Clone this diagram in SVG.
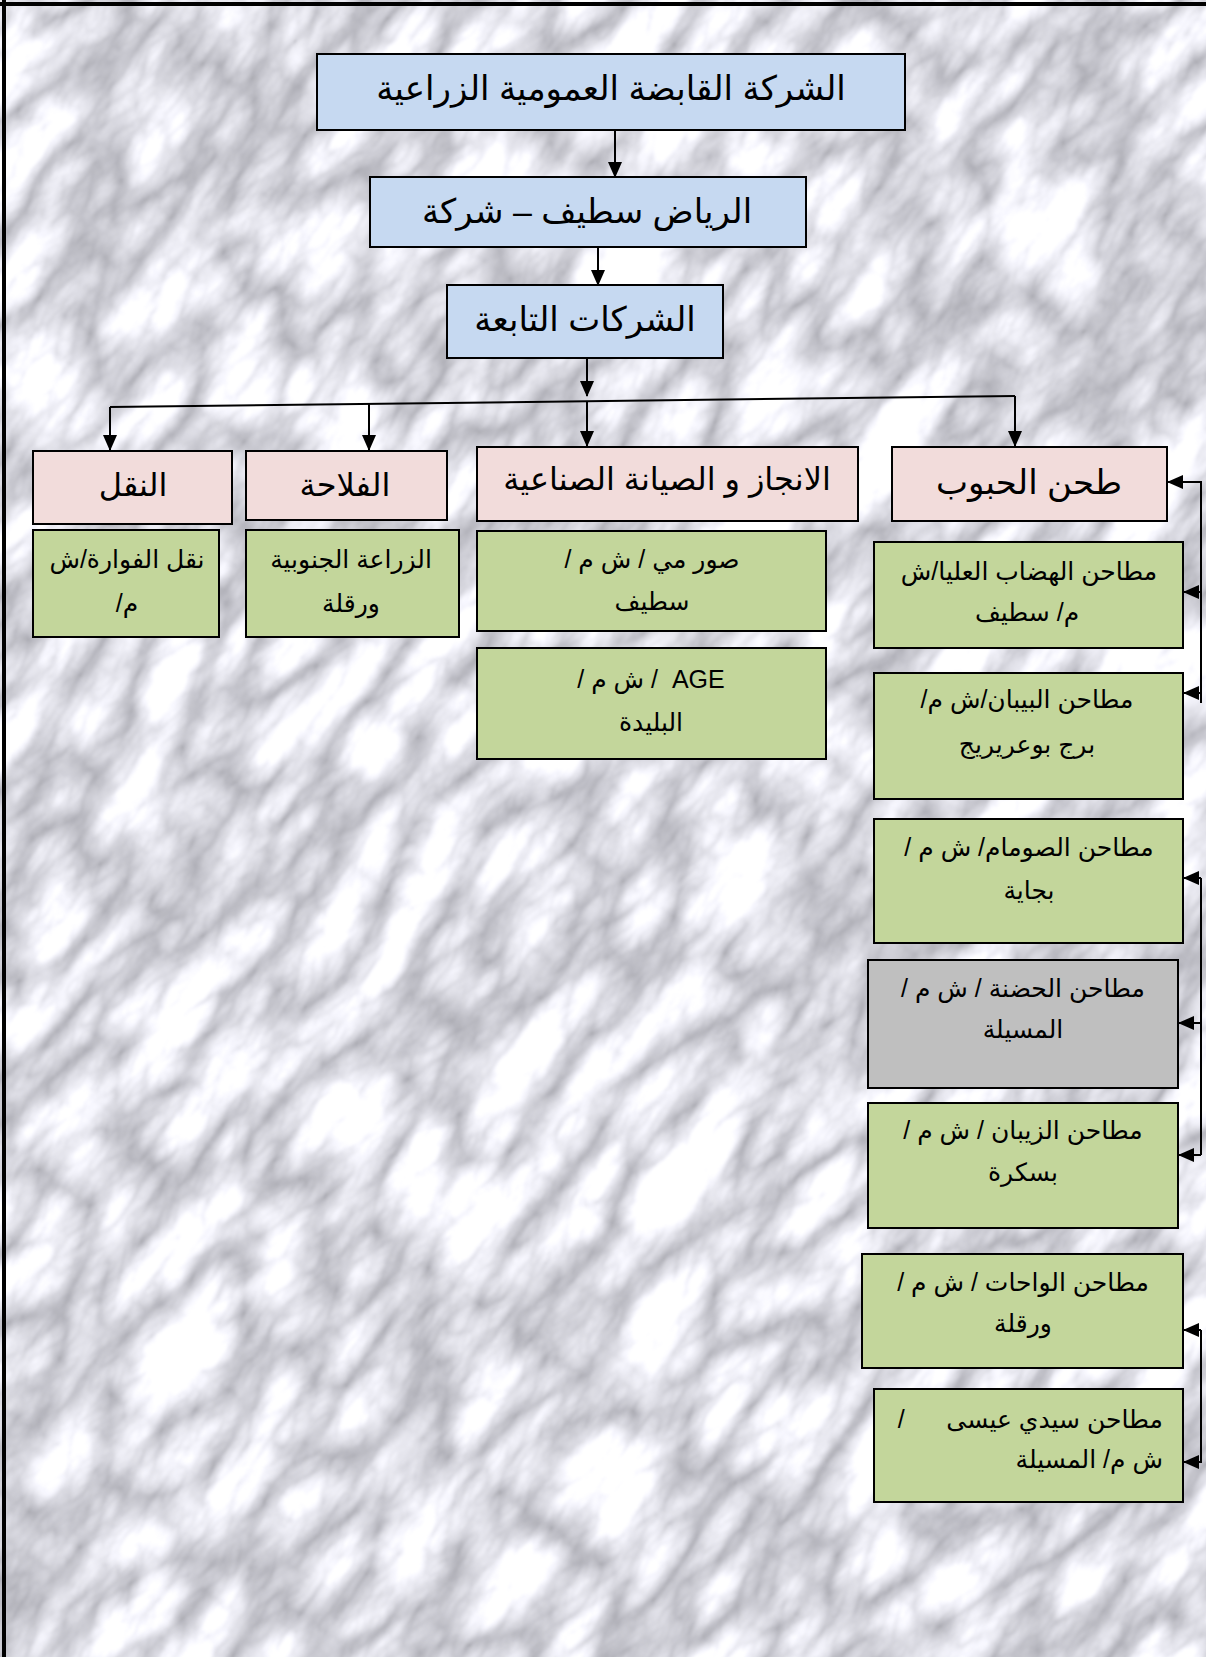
<svg xmlns="http://www.w3.org/2000/svg" width="1206" height="1657" viewBox="0 0 1206 1657">
  <style>
    .box{stroke:#000;stroke-width:2}
    .blue{fill:#c6d9f1}
    .pink{fill:#f2dcdb}
    .green{fill:#c3d69b}
    .gray{fill:#bfbfbf}
    text{font-family:"Liberation Sans","DejaVu Sans",sans-serif;fill:#000;direction:rtl}
    .t1{font-size:34px}
    .t2{font-size:32px}
    .t3{font-size:25px}
    .conn{stroke:#000;stroke-width:2;fill:none}
  </style>
  <defs>
    <filter id="marbleF" x="0" y="0" width="100%" height="100%" color-interpolation-filters="sRGB">
      <feTurbulence type="turbulence" baseFrequency="0.007 0.016" numOctaves="5" seed="23"/>
      <feColorMatrix type="matrix" values="0.6 0 0 0 0.67  0.6 0 0 0 0.67  0.6 0 0 0 0.70  0 0 0 0 1"/>
      <feGaussianBlur stdDeviation="1"/>
    </filter>
    <marker id="arr" markerWidth="16" markerHeight="14" refX="15" refY="7" orient="auto" markerUnits="userSpaceOnUse">
      <path d="M0,0 L16,7 L0,14 z" fill="#000"/>
    </marker>
  </defs>

  <rect x="0" y="0" width="1206" height="1657" fill="#e4e4e8"/>
  <g transform="rotate(-55 603 828)">
    <rect x="-700" y="-500" width="2600" height="2700" fill="#fff" filter="url(#marbleF)"/>
  </g>
  <path d="M4,0 V1657 M0,4 H1206" stroke="#000" stroke-width="4" fill="none"/>

  <g id="connectors">
    <path class="conn" d="M615,130 V177" marker-end="url(#arr)"/>
    <path class="conn" d="M598,247 V285" marker-end="url(#arr)"/>
    <path class="conn" d="M587,358 V396" marker-end="url(#arr)"/>
    <path class="conn" d="M110,407 L1015,396"/>
    <path class="conn" d="M110,407 V450" marker-end="url(#arr)"/>
    <path class="conn" d="M369,404 V450" marker-end="url(#arr)"/>
    <path class="conn" d="M587,401 V446" marker-end="url(#arr)"/>
    <path class="conn" d="M1015,396 V446" marker-end="url(#arr)"/>
    <path class="conn" d="M1201,703 V482 H1168" marker-end="url(#arr)"/>
    <path class="conn" d="M1201,592 H1184" marker-end="url(#arr)"/>
    <path class="conn" d="M1201,693 H1184" marker-end="url(#arr)"/>
    <path class="conn" d="M1201,878 V1155"/>
    <path class="conn" d="M1201,878 H1184" marker-end="url(#arr)"/>
    <path class="conn" d="M1201,1023 H1179" marker-end="url(#arr)"/>
    <path class="conn" d="M1201,1155 H1179" marker-end="url(#arr)"/>
    <path class="conn" d="M1201,1330 V1463"/>
    <path class="conn" d="M1201,1330 H1184" marker-end="url(#arr)"/>
    <path class="conn" d="M1201,1462 H1184" marker-end="url(#arr)"/>
  </g>

  <g id="holding">
    <rect class="box blue" x="317" y="54" width="588" height="76"/>
    <text class="t1" x="611" y="100" text-anchor="middle">الشركة القابضة العمومية الزراعية</text>
  </g>
  <g id="riad">
    <rect class="box blue" x="370" y="177" width="436" height="70"/>
    <text class="t1" x="587" y="223" text-anchor="middle">الرياض سطيف – شركة</text>
  </g>
  <g id="subsidiaries">
    <rect class="box blue" x="447" y="285" width="276" height="73"/>
    <text class="t1" x="585" y="331" text-anchor="middle">الشركات التابعة</text>
  </g>

  <g id="transport">
    <rect class="box pink" x="33" y="451" width="199" height="73"/>
    <text class="t2" x="133" y="496" text-anchor="middle">النقل</text>
  </g>
  <g id="agriculture">
    <rect class="box pink" x="246" y="451" width="201" height="69"/>
    <text class="t2" x="345" y="496" text-anchor="middle">الفلاحة</text>
  </g>
  <g id="maintenance">
    <rect class="box pink" x="477" y="447" width="381" height="74"/>
    <text class="t2" x="667" y="490" text-anchor="middle">الانجاز و الصيانة الصناعية</text>
  </g>
  <g id="milling">
    <rect class="box pink" x="892" y="447" width="275" height="74"/>
    <text class="t1" x="1029" y="494" text-anchor="middle">طحن الحبوب</text>
  </g>

  <g id="fouara">
    <rect class="box green" x="33" y="530" width="186" height="107"/>
    <text class="t3" x="127" y="568" text-anchor="middle">نقل الفوارة/ش</text>
    <text class="t3" x="127" y="612" text-anchor="middle">م/</text>
  </g>
  <g id="zira3a">
    <rect class="box green" x="246" y="530" width="213" height="107"/>
    <text class="t3" x="351" y="568" text-anchor="middle">الزراعة الجنوبية</text>
    <text class="t3" x="351" y="612" text-anchor="middle">ورقلة</text>
  </g>
  <g id="sormi">
    <rect class="box green" x="477" y="531" width="349" height="100"/>
    <text class="t3" x="652" y="568" text-anchor="middle">صور مي / ش م /</text>
    <text class="t3" x="652" y="610" text-anchor="middle">سطيف</text>
  </g>
  <g id="age">
    <rect class="box green" x="477" y="648" width="349" height="111"/>
    <text class="t3" x="651" y="688" text-anchor="middle" xml:space="preserve">AGE  / ش م /</text>
    <text class="t3" x="651" y="731" text-anchor="middle">البليدة</text>
  </g>

  <g id="hidhab">
    <rect class="box green" x="874" y="542" width="309" height="106"/>
    <text class="t3" x="1029" y="580" text-anchor="middle">مطاحن الهضاب العليا/ش</text>
    <text class="t3" x="1027" y="621" text-anchor="middle">م/ سطيف</text>
  </g>
  <g id="bibane">
    <rect class="box green" x="874" y="673" width="309" height="126"/>
    <text class="t3" x="1027" y="708" text-anchor="middle">مطاحن البيبان/ش م/</text>
    <text class="t3" x="1027" y="753" text-anchor="middle">برج بوعريريج</text>
  </g>
  <g id="soummam">
    <rect class="box green" x="874" y="819" width="309" height="124"/>
    <text class="t3" x="1029" y="856" text-anchor="middle">مطاحن الصومام/ ش م /</text>
    <text class="t3" x="1029" y="899" text-anchor="middle">بجاية</text>
  </g>
  <g id="hodna">
    <rect class="box gray" x="868" y="960" width="310" height="128"/>
    <text class="t3" x="1023" y="997" text-anchor="middle">مطاحن الحضنة / ش م /</text>
    <text class="t3" x="1023" y="1038" text-anchor="middle">المسيلة</text>
  </g>
  <g id="ziban">
    <rect class="box green" x="868" y="1103" width="310" height="125"/>
    <text class="t3" x="1023" y="1139" text-anchor="middle">مطاحن الزيبان / ش م /</text>
    <text class="t3" x="1023" y="1181" text-anchor="middle">بسكرة</text>
  </g>
  <g id="wahat">
    <rect class="box green" x="862" y="1254" width="321" height="114"/>
    <text class="t3" x="1023" y="1291" text-anchor="middle">مطاحن الواحات / ش م /</text>
    <text class="t3" x="1023" y="1332" text-anchor="middle">ورقلة</text>
  </g>
  <g id="sidiaissa">
    <rect class="box green" x="874" y="1389" width="309" height="113"/>
    <text class="t3" x="1163" y="1428" text-anchor="start" xml:space="preserve">مطاحن سيدي عيسى      /</text>
    <text class="t3" x="1163" y="1468" text-anchor="start">ش م/ المسيلة</text>
  </g>
</svg>
